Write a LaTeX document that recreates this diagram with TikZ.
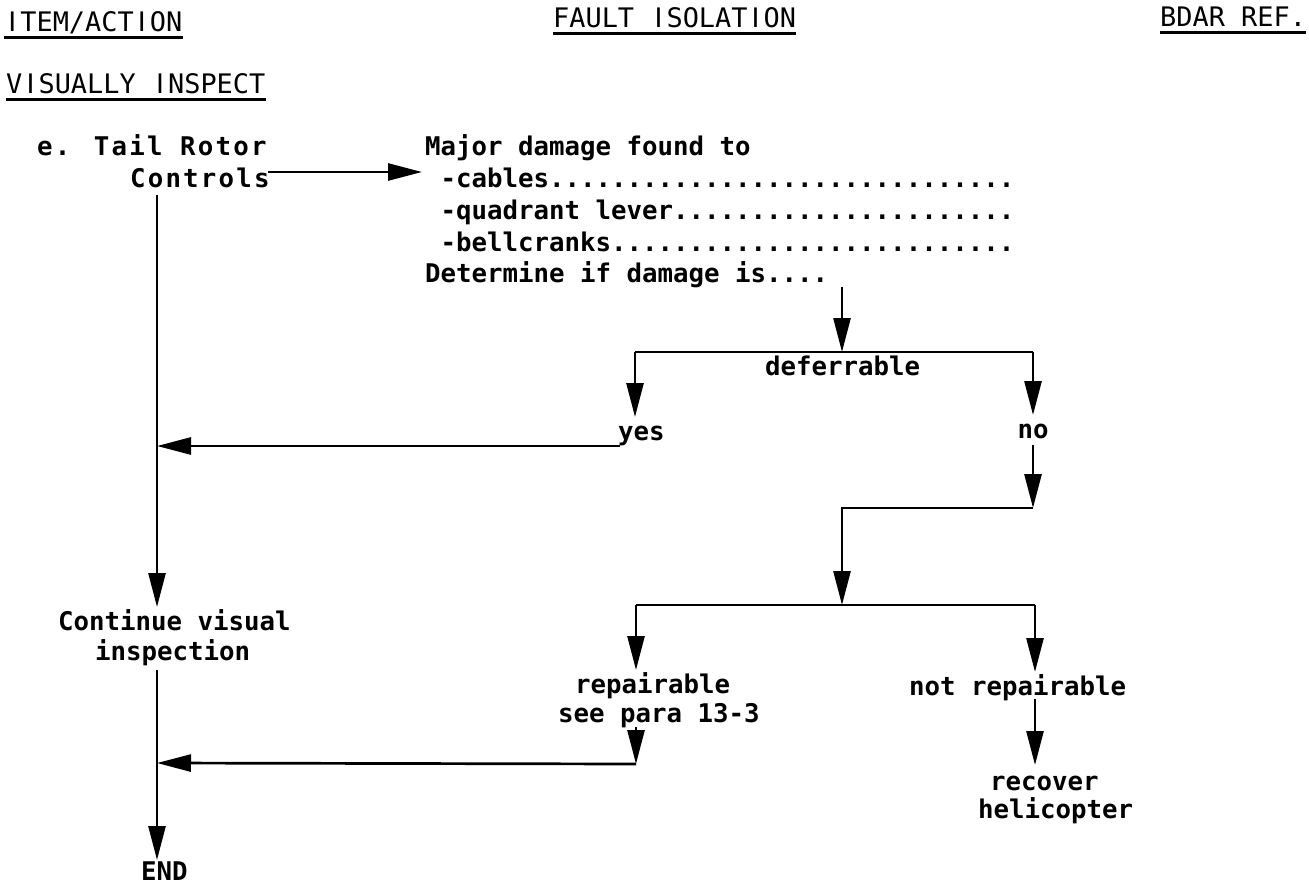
\documentclass[tikz,border=0pt]{standalone}
\usepackage{fontspec}
\setmainfont{DejaVu Sans}
\newfontfamily\monofam{DejaVu Sans Mono}
\newfontfamily\plainI{DejaVu Sans}
\usetikzlibrary{arrows.meta}
\newcommand\hI{\makebox[0.602em]{\plainI I}}
\tikzset{
  head/.style={font=\monofam\fontsize{26.9}{30}\selectfont, inner sep=0pt, anchor=base west},
  body/.style={font=\monofam\bfseries\fontsize{25.75}{30}\selectfont, inner sep=0pt, anchor=base west},
  wide/.style={font=\monofam\bfseries\fontsize{25.75}{30}\selectfont\addfontfeature{LetterSpace=8.5}},
  uline/.style={line width=3pt},
  flow/.style={line width=2.7pt},
  arr/.style={flow, -{Triangle[length=34pt,width=17pt]}},
}
\begin{document}
\begin{tikzpicture}[x=1pt,y=-1pt]
\useasboundingbox[fill=white] (0,0) rectangle (1309,888);

% headers
\node[head] (h1) at (4,32) {\hI TEM/ACT\hI ON};
\node[head] (h2) at (553,28) {FAULT \hI SOLAT\hI ON};
\node[head] (h3) at (1160,27) {BDAR REF.};
\node[head] (h4) at (6,94) {V\hI SUALLY \hI NSPECT};
\foreach \n in {h1,h2,h3,h4}
  \draw[uline] ([yshift=-5.5pt]\n.base west) -- ([yshift=-5.5pt]\n.base east);

% text
\node[body,wide] (tail) at (37,155) {e. Tail Rotor};
\node[body,wide] (ctl) at (130,187) {Controls};
\node[body] (maj) at (425,155) {Major damage found to};
\node[body] (cab) at (440.5,187) {-cables..............................};
\node[body] (quad) at (440.5,219) {-quadrant lever......................};
\node[body] (bell) at (440.5,251) {-bellcranks..........................};
\node[body] (det) at (425,282) {Determine if damage is....};
\node[body] (def) at (765,375) {deferrable};
\node[body] (yes) at (618,440) {yes};
\node[body,anchor=base] (no) at (1033,438) {no};
\node[body] (cont) at (58,630) {Continue visual};
\node[body] (insp) at (95,660) {inspection};
\node[body] (rep) at (575,693) {repairable};
\node[body] (see) at (558,722) {see para 13-3};
\node[body] (notrep) at (909,695) {not repairable};
\node[body] (rec) at (990,790) {recover};
\node[body] (heli) at (978,818) {helicopter};
\node[body] (endn) at (141,880) {END};

% coordinates
\coordinate (tailout) at (268,172);
\coordinate (majin) at (422,172);
\coordinate (m0) at (157,195);
\coordinate (m1) at (157,607);
\coordinate (m2) at (157,670);
\coordinate (m3) at (157,860);
\coordinate (myes) at (157,446);
\coordinate (mrep) at (157,763);
\coordinate (detout) at (842,287);
\coordinate (j1) at (842,352);
\coordinate (j1L) at (635,352);
\coordinate (j1R) at (1033,352);
\coordinate (yesin) at (635,417);
\coordinate (yesout) at (620,446);
\coordinate (noin) at (1033,415);
\coordinate (noout) at (1033,445);
\coordinate (c2) at (1033,508);
\coordinate (c2b) at (842,508);
\coordinate (j2) at (842,605);
\coordinate (j2L) at (636,605);
\coordinate (j2R) at (1035,605);
\coordinate (repin) at (636,670);
\coordinate (repout) at (636,727);
\coordinate (c3) at (636,764);
\coordinate (nrin) at (1035,672);
\coordinate (nrout) at (1035,699);
\coordinate (recin) at (1035,765);

% connectors
\draw[arr] (tailout) -- (majin);
\draw[arr] (m0) -- (m1);
\draw[arr] (m2) -- (m3);
\draw[arr] (detout) -- (j1);
\draw[flow] (j1L) -- (j1R);
\draw[arr] (j1L) -- (yesin);
\draw[arr] (yesout) -- (myes);
\draw[arr] (j1R) -- (noin);
\draw[arr] (noout) -- (c2);
\draw[arr] (c2) -- (c2b) -- (j2);
\draw[flow] (j2L) -- (j2R);
\draw[arr] (j2L) -- (repin);
\draw[arr] (j2R) -- (nrin);
\draw[arr] (nrout) -- (recin);
\draw[arr] (repout) -- (c3);
\draw[arr] (c3) -- (mrep);
\end{tikzpicture}
\end{document}
